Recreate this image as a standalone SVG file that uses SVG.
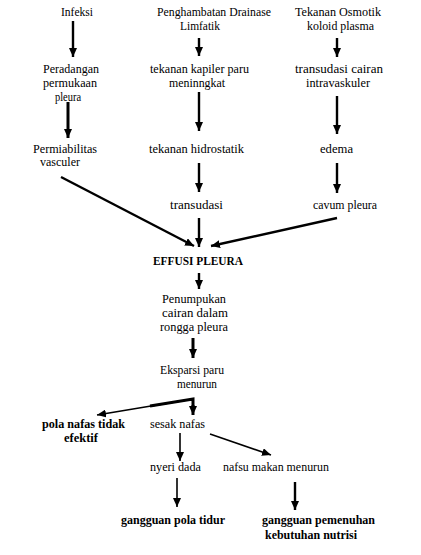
<svg xmlns="http://www.w3.org/2000/svg" width="421" height="555" viewBox="0 0 421 555" font-family="'Liberation Serif', 'Times New Roman', serif">
<style>
text{font-size:12px;fill:#000}
.b{font-weight:bold}
.c{stroke:#000;fill:none;stroke-width:1.6}
.t{stroke-width:2.4}
</style>
<defs>
<marker id="ah" markerUnits="userSpaceOnUse" markerWidth="9" markerHeight="8" refX="9" refY="4" orient="auto" viewBox="0 0 9 8">
<path d="M0,0 L9,4 L0,8 z" fill="#000"/>
</marker>
</defs>
<rect width="421" height="555" fill="#fff"/>
<g id="n-infeksi"><text x="61" y="16" textLength="32" lengthAdjust="spacingAndGlyphs">Infeksi</text></g>
<g id="n-penghambatan"><text x="157" y="16" textLength="114" lengthAdjust="spacingAndGlyphs">Penghambatan Drainase</text><text x="180" y="30" textLength="40" lengthAdjust="spacingAndGlyphs">Limfatik</text></g>
<g id="n-osmotik"><text x="295" y="16" textLength="86" lengthAdjust="spacingAndGlyphs">Tekanan Osmotik</text><text x="307" y="30" textLength="67" lengthAdjust="spacingAndGlyphs">koloid plasma</text></g>
<g id="n-peradangan"><text x="43" y="73" textLength="56" lengthAdjust="spacingAndGlyphs">Peradangan</text><text x="43" y="87" textLength="54" lengthAdjust="spacingAndGlyphs">permukaan</text><text x="55" y="101" textLength="26" lengthAdjust="spacingAndGlyphs">pleura</text></g>
<g id="n-kapiler"><text x="150" y="73" textLength="99" lengthAdjust="spacingAndGlyphs">tekanan kapiler paru</text><text x="169" y="87" textLength="56" lengthAdjust="spacingAndGlyphs">meninngkat</text></g>
<g id="n-transudasi-cairan"><text x="295" y="73" textLength="88" lengthAdjust="spacingAndGlyphs">transudasi cairan</text><text x="306" y="87" textLength="64" lengthAdjust="spacingAndGlyphs">intravaskuler</text></g>
<g id="n-permiabilitas"><text x="33" y="153" textLength="64" lengthAdjust="spacingAndGlyphs">Permiabilitas</text><text x="40" y="166" textLength="40" lengthAdjust="spacingAndGlyphs">vasculer</text></g>
<g id="n-hidrostatik"><text x="149" y="153" textLength="95" lengthAdjust="spacingAndGlyphs">tekanan hidrostatik</text></g>
<g id="n-edema"><text x="320" y="153" textLength="33" lengthAdjust="spacingAndGlyphs">edema</text></g>
<g id="n-transudasi"><text x="170" y="209" textLength="53" lengthAdjust="spacingAndGlyphs">transudasi</text></g>
<g id="n-cavum"><text x="313" y="209" textLength="64" lengthAdjust="spacingAndGlyphs">cavum pleura</text></g>
<g id="n-effusi"><text class="b" x="153" y="265" textLength="90" lengthAdjust="spacingAndGlyphs">EFFUSI PLEURA</text></g>
<g id="n-penumpukan"><text x="162" y="303" textLength="64" lengthAdjust="spacingAndGlyphs">Penumpukan</text><text x="162" y="317" textLength="66" lengthAdjust="spacingAndGlyphs">cairan dalam</text><text x="160" y="331" textLength="68" lengthAdjust="spacingAndGlyphs">rongga pleura</text></g>
<g id="n-ekspansi"><text x="160" y="374" textLength="64" lengthAdjust="spacingAndGlyphs">Eksparsi paru</text><text x="177" y="388" textLength="40" lengthAdjust="spacingAndGlyphs">menurun</text></g>
<g id="n-pola-nafas"><text class="b" x="42" y="428" textLength="83" lengthAdjust="spacingAndGlyphs">pola nafas tidak</text><text class="b" x="64" y="442" textLength="34" lengthAdjust="spacingAndGlyphs">efektif</text></g>
<g id="n-sesak"><text x="150" y="428" textLength="55" lengthAdjust="spacingAndGlyphs">sesak nafas</text></g>
<g id="n-nyeri"><text x="150" y="471" textLength="51" lengthAdjust="spacingAndGlyphs">nyeri dada</text></g>
<g id="n-nafsu"><text x="223" y="471" textLength="106" lengthAdjust="spacingAndGlyphs">nafsu makan menurun</text></g>
<g id="n-gangguan-tidur"><text class="b" x="121" y="524" textLength="104" lengthAdjust="spacingAndGlyphs">gangguan pola tidur</text></g>
<g id="n-gangguan-nutrisi"><text class="b" x="262" y="524" textLength="113" lengthAdjust="spacingAndGlyphs">gangguan pemenuhan</text><text class="b" x="265" y="539" textLength="92" lengthAdjust="spacingAndGlyphs">kebutuhan nutrisi</text></g>
<g id="connectors">
<line class="c t" x1="73" y1="21" x2="73" y2="57" marker-end="url(#ah)"/>
<line class="c t" x1="199" y1="38" x2="199" y2="56" marker-end="url(#ah)"/>
<line class="c t" x1="337" y1="38" x2="337" y2="57" marker-end="url(#ah)"/>
<line class="c" style="stroke-width:3" x1="68" y1="102" x2="68" y2="138" marker-end="url(#ah)"/>
<line class="c t" x1="199" y1="92" x2="199" y2="131" marker-end="url(#ah)"/>
<line class="c t" x1="337" y1="96" x2="337" y2="134" marker-end="url(#ah)"/>
<line class="c t" x1="199" y1="163" x2="199" y2="192" marker-end="url(#ah)"/>
<line class="c t" x1="337" y1="163" x2="337" y2="193" marker-end="url(#ah)"/>
<line class="c t" x1="199" y1="218" x2="199" y2="247" marker-end="url(#ah)"/>
<line class="c t" x1="61" y1="177" x2="194" y2="246" marker-end="url(#ah)"/>
<line class="c t" x1="337" y1="218" x2="211" y2="246" marker-end="url(#ah)"/>
<line class="c t" x1="199" y1="273" x2="199" y2="289" marker-end="url(#ah)"/>
<line class="c" style="stroke-width:3" x1="193" y1="338" x2="193" y2="358" marker-end="url(#ah)"/>
<polyline class="c" style="stroke-width:3" points="150,406 193,399 193,407"/>
<line class="c" x1="193" y1="399" x2="97" y2="415" marker-end="url(#ah)"/>
<line class="c" style="stroke-width:3" x1="193" y1="405" x2="193" y2="415" marker-end="url(#ah)"/>
<line class="c" x1="180" y1="433" x2="180" y2="461" marker-end="url(#ah)"/>
<line class="c" x1="210" y1="434" x2="271" y2="455" marker-end="url(#ah)"/>
<line class="c" x1="177" y1="478" x2="177" y2="507" marker-end="url(#ah)"/>
<line class="c t" x1="295" y1="482" x2="295" y2="510" marker-end="url(#ah)"/>
</g>
</svg>
